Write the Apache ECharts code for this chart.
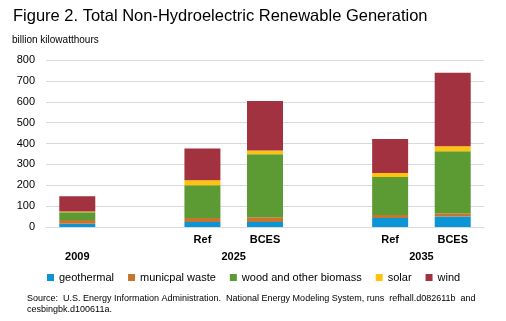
<!DOCTYPE html>
<html>
<head>
<meta charset="utf-8">
<script src="https://cdn.jsdelivr.net/npm/echarts@6/dist/echarts.min.js"></script>
<style>
  html, body { margin: 0; padding: 0; background: #fff; }
  #chart { width: 506px; height: 321px; }
</style>
</head>
<body>
<div id="chart"></div>
<script>
// Case labels per slot; empty slots separate the year groups
const caseLabels = ['', '', 'Ref', 'BCES', '', 'Ref', 'BCES'];
// Year labels and the slots each one spans
const yearLabels = ['2009', '2025', '2035'];
const yearSlots = [[0], [2, 3], [5, 6]];

// Generation, billion kilowatthours
const geothermal = [15, null, 24, 24, null, 43, 50];
const municipalWaste = [19, null, 19, 23, null, 15, 16];
const woodBiomass = [37, null, 157, 302, null, 181, 297];
const solar = [3, null, 24, 18, null, 20, 24];
const wind = [73, null, 152, 236, null, 162, 352];

const yTicks = [0, 100, 200, 300, 400, 500, 600, 700, 800];

const seriesDefs = [
  { name: 'geothermal', data: geothermal, color: '#0a96d6' },
  { name: 'municpal waste', data: municipalWaste, color: '#c4762f' },
  { name: 'wood and other biomass', data: woodBiomass, color: '#5c9a33' },
  { name: 'solar', data: solar, color: '#ffc20e' },
  { name: 'wind', data: wind, color: '#a2323f' }
];

const yearCenters = yearSlots.map(s => s.reduce((a, b) => a + b, 0) / s.length);

const font = 'Liberation Sans, Arial, sans-serif';
const chart = echarts.init(document.getElementById('chart'), null, { renderer: 'canvas' });

chart.setOption({
  animation: false,
  backgroundColor: '#fff',
  textStyle: { fontFamily: font },
  title: [
    {
      text: 'Figure 2. Total Non-Hydroelectric Renewable Generation',
      left: 8, top: 3,
      textStyle: { fontFamily: font, fontSize: 16.5, fontWeight: 'normal', color: '#000' }
    },
    {
      text: 'billion kilowatthours',
      left: 7, top: 30,
      textStyle: { fontFamily: font, fontSize: 10, fontWeight: 'normal', color: '#000' }
    },
    {
      text: 'Source:  U.S. Energy Information Administration.  National Energy Modeling System, runs  refhall.d082611b  and\ncesbingbk.d100611a.',
      left: 22, top: 288,
      textStyle: { fontFamily: font, fontSize: 9, fontWeight: 'normal', color: '#000', lineHeight: 11 }
    }
  ],
  legend: {
    left: 42, top: 267,
    itemWidth: 7, itemHeight: 7, itemGap: 14,
    icon: 'rect',
    textStyle: { fontFamily: font, fontSize: 11, color: '#000' },
    data: seriesDefs.map(d => d.name)
  },
  grid: { left: 46, right: 22, top: 60, bottom: 94 },
  xAxis: [
    {
      type: 'category',
      data: caseLabels,
      axisLine: { show: true, lineStyle: { color: '#d9d9d9' } },
      axisTick: { show: false },
      axisLabel: {
        interval: 0, margin: 7,
        fontFamily: font, fontSize: 11, fontWeight: 'bold', color: '#000'
      }
    },
    {
      type: 'value',
      position: 'bottom',
      offset: 17,
      min: -0.5, max: caseLabels.length - 0.5, interval: 0.5,
      axisLine: { show: false },
      axisTick: { show: false },
      splitLine: { show: false },
      axisLabel: {
        margin: 7, showMinLabel: true, showMaxLabel: true,
        fontFamily: font, fontSize: 11, fontWeight: 'bold', color: '#000',
        formatter: v => {
          const i = yearCenters.findIndex(c => Math.abs(c - v) < 1e-6);
          return i >= 0 ? yearLabels[i] : '';
        }
      }
    }
  ],
  yAxis: {
    type: 'value',
    min: yTicks[0], max: yTicks[yTicks.length - 1], interval: 100,
    axisLine: { show: false },
    axisTick: { show: false },
    splitLine: { lineStyle: { color: '#d9d9d9', width: 1 } },
    axisLabel: { margin: 11, fontFamily: font, fontSize: 11, color: '#000' }
  },
  series: seriesDefs.map(d => ({
    name: d.name,
    type: 'bar',
    stack: 'total',
    xAxisIndex: 0,
    barWidth: 36,
    data: d.data,
    itemStyle: { color: d.color }
  }))
});
</script>
</body>
</html>
